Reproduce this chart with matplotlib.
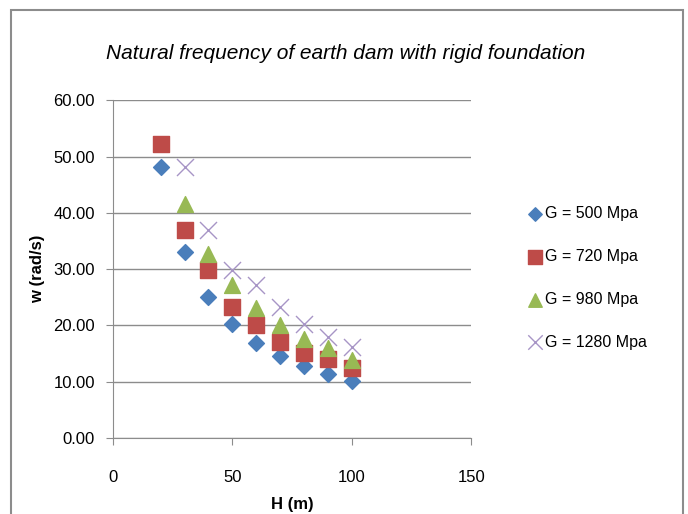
import matplotlib.pyplot as plt
from matplotlib.patches import Rectangle

plt.rcParams['font.family'] = ['Liberation Sans Narrow', 'Liberation Sans', 'DejaVu Sans']

# heights (m) and natural frequencies (rad/s)
h = [20, 30, 40, 50, 60, 70, 80, 90, 100]
w_500 = [48.2, 33.0, 25.1, 20.2, 16.9, 14.6, 12.7, 11.4, 10.1]
w_720 = [52.2, 36.9, 29.8, 23.3, 20.1, 17.0, 15.1, 14.0, 12.4]
h_980 = [30, 40, 50, 60, 70, 80, 90, 100]
w_980 = [41.5, 32.7, 27.1, 23.0, 20.0, 17.6, 15.9, 13.9]
h_1280 = [30, 40, 50, 60, 70, 80, 90, 100]
w_1280 = [48.2, 36.9, 29.9, 27.1, 23.3, 20.3, 17.9, 16.2]

fig = plt.figure(figsize=(6.88, 5.14), dpi=100)
ax = fig.add_axes([0.164, 0.148, 0.521, 0.657])

fig.patches.append(Rectangle((0.016, -0.01), 0.977, 0.99, transform=fig.transFigure,
                             fill=False, edgecolor='#8c8c8c', linewidth=1.5))

ax.scatter(h, w_500, marker='D', s=65, color='#4a7ebb', label='G = 500 Mpa', zorder=3)
ax.scatter(h, w_720, marker='s', s=140, color='#be4b48', label='G = 720 Mpa', zorder=3)
ax.scatter(h_980, w_980, marker='^', s=130, color='#98b954', label='G = 980 Mpa', zorder=3)
ax.scatter(h_1280, w_1280, marker='x', s=150, color='#a795c6', linewidths=1.0,
           label='G = 1280 Mpa', zorder=3)

ax.set_xlim(0, 150)
ax.set_ylim(0, 60)
ax.set_xticks([0, 50, 100, 150])
ax.set_yticks(range(0, 61, 10))
ax.set_yticklabels([f'{v:.2f}' for v in range(0, 61, 10)])
ax.grid(axis='y', color='#8c8c8c', linewidth=1)
ax.set_axisbelow(True)
for s in ['top', 'right']:
    ax.spines[s].set_visible(False)
for s in ['left', 'bottom']:
    ax.spines[s].set_color('#8c8c8c')
ax.tick_params(colors='#8c8c8c', labelcolor='black', labelsize=12, length=5)
ax.tick_params(axis='x', pad=18)
ax.tick_params(axis='y', pad=8)

ax.set_xlabel('H (m)', fontsize=12, fontweight='bold', labelpad=9)
ax.set_ylabel('w (rad/s)', fontsize=12, fontweight='bold', labelpad=6)
fig.text(0.502, 0.895, 'Natural frequency of earth dam with rigid foundation',
         ha='center', va='center', fontsize=15, style='italic')

fig.legend(loc='upper left', bbox_to_anchor=(0.757, 0.612), frameon=False,
           fontsize=11.5, handletextpad=0.1, labelspacing=1.75, borderaxespad=0,
           handlelength=1.0, markerscale=0.85)

fig.savefig('out.png', dpi=100)
